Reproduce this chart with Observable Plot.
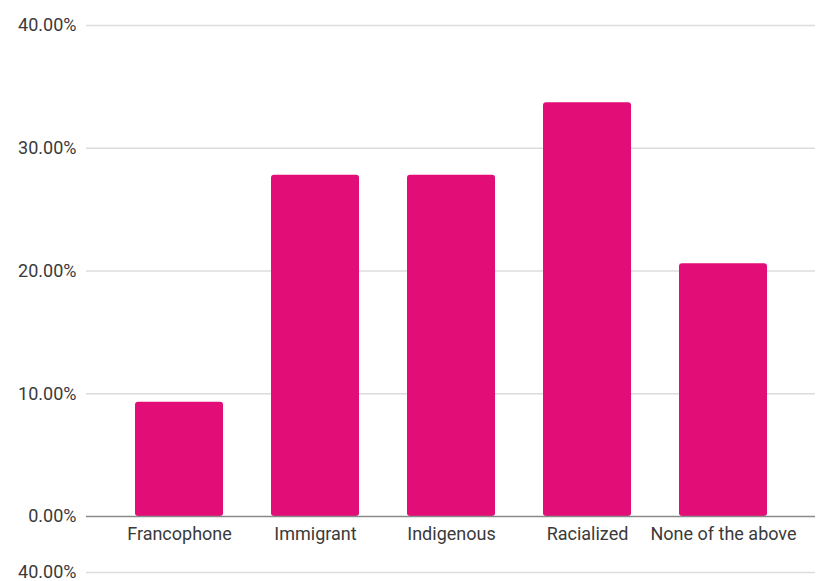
<!DOCTYPE html>
<html>
<head>
<meta charset="utf-8">
<script src="https://cdn.jsdelivr.net/npm/d3@7"></script>
<script src="https://cdn.jsdelivr.net/npm/@observablehq/plot@0.6"></script>
<style>
  html, body { margin: 0; padding: 0; background: #fff; }
  #chart svg { display: block; }
</style>
</head>
<body>
<div id="chart"></div>
<script>
const categories = ["Francophone", "Immigrant", "Indigenous", "Racialized", "None of the above"];
const values = [9.3, 27.8, 27.8, 33.7, 20.6];
const yTicks = [0, 10, 20, 30, 40];
const nextChartTicks = [40];

const data = categories.map((c, i) => ({category: c, value: values[i]}));
const fmt = d => d.toFixed(2) + "%";
const font = "Roboto, 'Helvetica Neue', Arial, sans-serif";

const main = Plot.plot({
  width: 822,
  height: 556,
  marginTop: 25,
  marginBottom: 40,
  marginLeft: 86,
  marginRight: 7,
  style: {fontFamily: font, fontSize: "18px", color: "#3a3a3a", background: "#fff"},
  x: {domain: categories, paddingInner: 0.353, paddingOuter: 0.353, label: null, tickSize: 0, tickPadding: 11},
  y: {domain: [0, 40], label: null},
  marks: [
    Plot.ruleY(yTicks.filter(d => d > 0), {stroke: "#dcdcdc", strokeWidth: 1.6}),
    Plot.axisY(yTicks, {tickSize: 0, tickPadding: 10, tickFormat: fmt, label: null}),
    Plot.barY(data, {x: "category", y: "value", fill: "#e20d76", rx: 3}),
    Plot.ruleY([0], {stroke: "#8a8a8a", strokeWidth: 1.6}),
    Plot.axisX({tickSize: 0, tickPadding: 11, label: null})
  ]
});

const fragment = Plot.plot({
  width: 822,
  height: 25,
  marginTop: 16,
  marginBottom: 0,
  marginLeft: 86,
  marginRight: 7,
  style: {fontFamily: font, fontSize: "18px", color: "#3a3a3a", background: "#fff", overflow: "visible"},
  x: {axis: null},
  y: {domain: [0, 40], label: null},
  marks: [
    Plot.ruleY(nextChartTicks, {stroke: "#dcdcdc", strokeWidth: 1.6}),
    Plot.axisY(nextChartTicks, {tickSize: 0, tickPadding: 10, tickFormat: fmt, label: null})
  ]
});

const el = document.getElementById("chart");
el.appendChild(main);
el.appendChild(fragment);
</script>
</body>
</html>
